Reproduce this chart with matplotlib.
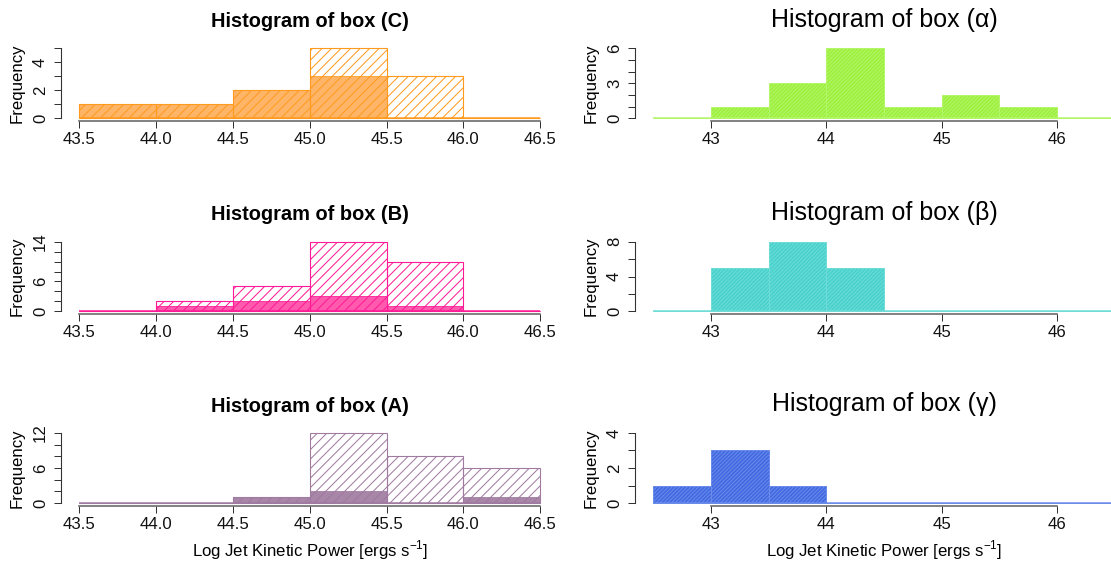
import numpy as np
import matplotlib
matplotlib.use("Agg")
import matplotlib.pyplot as plt

# hatch spacing in Agg scales with dpi, so a low dpi gives R-like spacing
DPI = 57
W, H = 1111, 561


def px(v):
    # pixel size -> points at this dpi
    return v * 72.0 / DPI


plt.rcParams['font.family'] = ['Liberation Sans', 'DejaVu Sans']
plt.rcParams['mathtext.fontset'] = 'custom'
plt.rcParams['mathtext.rm'] = 'Liberation Sans'
plt.rcParams['hatch.linewidth'] = px(1.0)

# left column: boxes C, B, A (bin edges 43.5 .. 46.5)
left_bins = [43.5, 44.0, 44.5, 45.0, 45.5, 46.0, 46.5]
box_c_all = [1, 1, 2, 5, 3, 0]
box_c_sub = [1, 1, 2, 3, 0, 0]
box_b_all = [0, 2, 5, 14, 10, 0]
box_b_sub = [0, 1, 2, 3, 1, 0]
box_a_all = [0, 0, 1, 12, 8, 6]
box_a_sub = [0, 0, 1, 2, 0, 1]

# right column: boxes alpha, beta, gamma (bin edges 42.5 .. 46.5)
right_bins = [42.5, 43.0, 43.5, 44.0, 44.5, 45.0, 45.5, 46.0, 46.5]
box_alpha = [0, 1, 3, 6, 1, 2, 1, 0]
box_beta = [0, 5, 8, 5, 0, 0, 0, 0]
box_gamma = [1, 3, 1, 0, 0, 0, 0, 0]

left_ticks = [43.5, 44.0, 44.5, 45.0, 45.5, 46.0, 46.5]
right_ticks = [43, 44, 45, 46]

xlab = r"Log Jet Kinetic Power [ergs s$^{-1}$]"

fig = plt.figure(figsize=(W / DPI, H / DPI), dpi=DPI)

rows = [(45.5, 121), (239, 314), (430, 506)]
left_cols = (61, 558.5)
right_cols = (635, 1133)


def make_ax(cols, row):
    l, r = cols
    t, b = row
    return fig.add_axes([l / W, 1 - b / H, (r - l) / W, (b - t) / H])


def style(ax, xmin, xmax, ymax, ystep, ylabels, xticks, xfmt):
    ax.set_xlim(xmin - 0.04 * (xmax - xmin), xmax + 0.04 * (xmax - xmin))
    ax.set_ylim(-0.04 * ymax, 1.04 * ymax)
    for s in ['top', 'right']:
        ax.spines[s].set_visible(False)
    ax.spines['left'].set_bounds(0, ymax)
    ax.spines['left'].set_linewidth(px(1.1))
    ax.spines['left'].set_color('#333333')
    ax.spines['bottom'].set_bounds(xticks[0], xticks[-1])
    ax.spines['bottom'].set_linewidth(px(1.6))
    ax.spines['bottom'].set_color('#666666')
    yt = list(range(0, ymax + 1, ystep))
    ax.set_yticks(yt)
    ax.set_yticklabels([str(v) if v in ylabels else '' for v in yt])
    ax.set_xticks(xticks)
    ax.set_xticklabels([xfmt.format(v) for v in xticks])
    ax.tick_params(axis='both', length=px(7), width=px(1), color='#333333',
                   labelsize=px(16.7), labelcolor='#111111')
    ax.tick_params(axis='x', pad=px(4))
    ax.tick_params(axis='y', pad=px(6))
    for lab in ax.get_yticklabels():
        lab.set_rotation(90)
        lab.set_va('center')
    ax.set_ylabel('Frequency', fontsize=px(16.7), labelpad=px(8))


def left_panel(row, title, total, sub, color, fill, ymax, ystep, ylabels, last=False):
    ax = make_ax(left_cols, row)
    widths = np.diff(left_bins)
    ax.bar(left_bins[:-1], sub, width=widths, align='edge', color=fill,
           edgecolor=color, linewidth=px(0.8))
    ax.bar(left_bins[:-1], total, width=widths, align='edge', facecolor='none',
           edgecolor=color, hatch='//', linewidth=px(1.1))
    ax.hlines(0, left_bins[0], left_bins[-1], color=color, linewidth=px(1.5), zorder=3)
    style(ax, 43.5, 46.5, ymax, ystep, ylabels, left_ticks, '{:.1f}')
    ax.set_title(title, fontsize=px(20), fontweight='bold', pad=px(18.5))
    if last:
        ax.set_xlabel(xlab, fontsize=px(16.7), labelpad=px(6))
    return ax


def right_panel(row, title, counts, color, light, ymax, ystep, ylabels, last=False):
    ax = make_ax(right_cols, row)
    widths = np.diff(right_bins)
    ax.bar(right_bins[:-1], counts, width=widths, align='edge', color=color,
           edgecolor=light, hatch='/////', linewidth=px(1.0))
    ax.hlines(0, right_bins[0], right_bins[-1], color=light, linewidth=px(1.5), zorder=3)
    style(ax, 42.5, 46.5, ymax, ystep, ylabels, right_ticks, '{:d}')
    ax.set_title(title, fontsize=px(25), pad=px(19))
    if last:
        ax.set_xlabel(xlab, fontsize=px(16.7), labelpad=px(6))
    return ax


left_panel(rows[0], 'Histogram of box (C)', box_c_all, box_c_sub,
           '#FF9A1F', '#FFB567', 5, 1, [0, 2, 4])
left_panel(rows[1], 'Histogram of box (B)', box_b_all, box_b_sub,
           '#FF1A96', '#FF5AAE', 14, 2, [0, 6, 14])
left_panel(rows[2], 'Histogram of box (A)', box_a_all, box_a_sub,
           '#A07AA0', '#A886A8', 12, 2, [0, 6, 12], last=True)

right_panel(rows[0], 'Histogram of box (α)', box_alpha,
            '#9CF03C', '#B4F66A', 6, 1, [0, 3, 6])
right_panel(rows[1], 'Histogram of box (β)', box_beta,
            '#48D1CC', '#6FDCD7', 8, 2, [0, 4, 8])
right_panel(rows[2], 'Histogram of box (γ)', box_gamma,
            '#4169E1', '#6A8BEA', 4, 1, [0, 2, 4], last=True)

fig.savefig('out.png', dpi=DPI, facecolor='white')
